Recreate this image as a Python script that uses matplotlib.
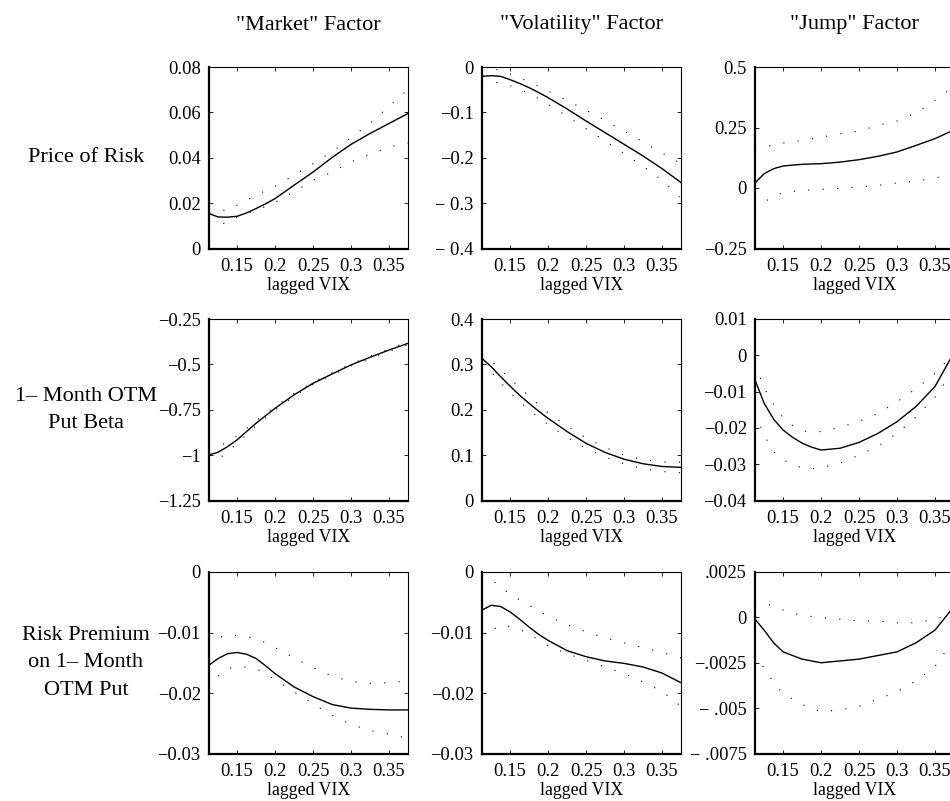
import matplotlib
matplotlib.use("Agg")
import matplotlib.pyplot as plt
from matplotlib.ticker import FixedLocator, FixedFormatter

plt.rcParams['font.family'] = ['Liberation Serif', 'DejaVu Serif']

# lagged VIX grid
vix = [0.113, 0.125, 0.1375, 0.15, 0.1625, 0.175, 0.1875, 0.2, 0.225, 0.25, 0.275, 0.3, 0.325, 0.35, 0.375]

col_titles = ['"Market" Factor', '"Volatility" Factor', '"Jump" Factor']
row_labels = ['Price of Risk', '1\u2013 Month OTM\nPut Beta', 'Risk Premium\non 1\u2013 Month\nOTM Put']

# Price of risk: estimate, upper band, lower band
mkt_price = [0.0154, 0.0139, 0.0138, 0.0142, 0.0157, 0.0176, 0.0197, 0.0220, 0.0279, 0.0337, 0.0401, 0.0459, 0.0507, 0.0551, 0.0595]
mkt_price_hi = [0.0176, 0.0170, 0.0167, 0.0191, 0.0213, 0.0235, 0.0255, 0.0274, 0.0323, 0.0374, 0.0426, 0.0489, 0.0551, 0.0627, 0.0700]
mkt_price_lo = [0.0113, 0.0107, 0.0113, 0.0139, 0.0153, 0.0169, 0.0185, 0.0203, 0.0249, 0.0301, 0.0337, 0.0382, 0.0415, 0.0448, 0.0465]

vol_price = [-0.0206, -0.0191, -0.0206, -0.0279, -0.0362, -0.0455, -0.0562, -0.0675, -0.0925, -0.119, -0.1446, -0.1703, -0.196, -0.2239, -0.2547]
vol_price_hi = [-0.0022, -0.0037, -0.0073, -0.0147, -0.0236, -0.033, -0.0428, -0.0528, -0.0734, -0.0954, -0.1174, -0.1409, -0.1651, -0.1893, -0.2128]
vol_price_lo = [-0.033, -0.033, -0.0352, -0.0411, -0.0493, -0.0587, -0.0702, -0.0822, -0.1086, -0.1358, -0.163, -0.1908, -0.2187, -0.2495, -0.29]

jump_price = [0.0206, 0.059, 0.0798, 0.0908, 0.0948, 0.0977, 0.0993, 0.1005, 0.107, 0.117, 0.131, 0.149, 0.176, 0.204, 0.24]
jump_price_hi = [0.162, 0.169, 0.179, 0.186, 0.191, 0.197, 0.203, 0.21, 0.224, 0.235, 0.259, 0.277, 0.31, 0.362, 0.42]
jump_price_lo = [-0.085, -0.058, -0.034, -0.019, -0.014, -0.010, -0.0075, -0.0055, -0.0014, 0.004, 0.011, 0.021, 0.029, 0.041, 0.062]

# 1-month OTM put beta
mkt_beta = [-0.999, -0.984, -0.953, -0.916, -0.87, -0.824, -0.783, -0.742, -0.668, -0.604, -0.553, -0.503, -0.461, -0.421, -0.384]
mkt_beta_hi = [-0.955, -0.95, -0.93, -0.895, -0.852, -0.81, -0.771, -0.732, -0.66, -0.598, -0.547, -0.498, -0.455, -0.414, -0.376]
mkt_beta_lo = [-1.04, -1.025, -0.98, -0.935, -0.886, -0.838, -0.795, -0.752, -0.676, -0.61, -0.559, -0.509, -0.467, -0.428, -0.392]

vol_beta = [0.313, 0.295, 0.273, 0.252, 0.232, 0.214, 0.197, 0.181, 0.152, 0.126, 0.106, 0.091, 0.081, 0.075, 0.073]
vol_beta_hi = [0.322, 0.308, 0.288, 0.268, 0.249, 0.23, 0.211, 0.193, 0.164, 0.138, 0.117, 0.1, 0.09, 0.085, 0.085]
vol_beta_lo = [0.3, 0.283, 0.26, 0.238, 0.218, 0.2, 0.183, 0.167, 0.139, 0.115, 0.096, 0.081, 0.07, 0.064, 0.061]

jump_beta = [-0.0068, -0.0132, -0.0176, -0.0206, -0.0226, -0.0242, -0.0253, -0.0261, -0.0256, -0.024, -0.0215, -0.0183, -0.0141, -0.0086, 0.0008]
jump_beta_hi = [-0.0025, -0.009, -0.0135, -0.0172, -0.0193, -0.0208, -0.0211, -0.021, -0.0198, -0.0182, -0.016, -0.0128, -0.0092, -0.005, 0.0006]
jump_beta_lo = [-0.016, -0.022, -0.0265, -0.0288, -0.0301, -0.031, -0.0312, -0.031, -0.0297, -0.0275, -0.025, -0.0215, -0.017, -0.0115, -0.004]

# Risk premium on 1-month OTM put
mkt_prem = [-0.0154, -0.0143, -0.0135, -0.0133, -0.0136, -0.0143, -0.0155, -0.0168, -0.019, -0.0206, -0.0219, -0.0225, -0.0227, -0.0228, -0.0228]
mkt_prem_hi = [-0.012, -0.0108, -0.0105, -0.0105, -0.0107, -0.011, -0.0117, -0.0125, -0.0142, -0.0158, -0.0172, -0.0181, -0.0184, -0.0183, -0.018]
mkt_prem_lo = [-0.019, -0.0172, -0.016, -0.0156, -0.0157, -0.016, -0.0168, -0.0178, -0.0198, -0.0218, -0.0237, -0.0252, -0.0262, -0.0268, -0.0275]

vol_prem = [-0.0063, -0.0055, -0.0057, -0.0066, -0.0078, -0.0091, -0.0103, -0.0113, -0.013, -0.014, -0.0147, -0.0151, -0.0157, -0.0167, -0.0183]
vol_prem_hi = [-0.0005, -0.0012, -0.0025, -0.0037, -0.0046, -0.0055, -0.0064, -0.0073, -0.0087, -0.0099, -0.0109, -0.0117, -0.0125, -0.0133, -0.0142]
vol_prem_lo = [-0.0105, -0.0097, -0.0088, -0.009, -0.0095, -0.0103, -0.0112, -0.0122, -0.0135, -0.0146, -0.0157, -0.0168, -0.0182, -0.0197, -0.0222]

jump_prem = [-0.0001, -0.0007, -0.0014, -0.0019, -0.0021, -0.0023, -0.0024, -0.0025, -0.0024, -0.0023, -0.0021, -0.0019, -0.0014, -0.0007, 0.0006]
jump_prem_hi = [0.0009, 0.0008, 0.0006, 0.0004, 0.00025, 0.0001, 0.00005, 0.0, -0.0001, -0.0002, -0.0002, -0.0003, -0.0003, -0.0001, 0.0002]
jump_prem_lo = [-0.002, -0.0028, -0.0036, -0.0042, -0.0045, -0.0048, -0.005, -0.0052, -0.0051, -0.0049, -0.0045, -0.0041, -0.0035, -0.0027, -0.0012]

series = [
    [(mkt_price, mkt_price_hi, mkt_price_lo), (vol_price, vol_price_hi, vol_price_lo), (jump_price, jump_price_hi, jump_price_lo)],
    [(mkt_beta, mkt_beta_hi, mkt_beta_lo), (vol_beta, vol_beta_hi, vol_beta_lo), (jump_beta, jump_beta_hi, jump_beta_lo)],
    [(mkt_prem, mkt_prem_hi, mkt_prem_lo), (vol_prem, vol_prem_hi, vol_prem_lo), (jump_prem, jump_prem_hi, jump_prem_lo)],
]

# y-axis ticks and their printed labels
y_ticks = [
    [[0, 0.02, 0.04, 0.06, 0.08], [-0.4, -0.3, -0.2, -0.1, 0], [-0.25, 0, 0.25, 0.5]],
    [[-1.25, -1, -0.75, -0.5, -0.25], [0, 0.1, 0.2, 0.3, 0.4], [-0.04, -0.03, -0.02, -0.01, 0, 0.01]],
    [[-0.03, -0.02, -0.01, 0], [-0.03, -0.02, -0.01, 0], [-0.0075, -0.005, -0.0025, 0, 0.0025]],
]
y_ticklabels = [
    [['0', '0.02', '0.04', '0.06', '0.08'],
     ['\u2212 0.4', '\u2212 0.3', '\u22120.2', '\u22120.1', '0'],
     ['\u22120.25', '0', '0.25', '0.5']],
    [['\u22121.25', '\u22121', '\u22120.75', '\u22120.5', '\u22120.25'],
     ['0', '0.1', '0.2', '0.3', '0.4'],
     ['\u22120.04', '\u22120.03', '\u22120.02', '\u22120.01', '0', '0.01']],
    [['\u22120.03', '\u22120.02', '\u22120.01', '0'],
     ['\u22120.03', '\u22120.02', '\u22120.01', '0'],
     ['\u2212 .0075', '\u2212 .005', '\u2212.0025', '0', '.0025']],
]

x_ticks = [0.15, 0.2, 0.25, 0.3, 0.35]
x_ticklabels = ['0.15', '0.2', '0.25', '0.3', '0.35']

W, H = 950, 801
fig = plt.figure(figsize=(W / 100, H / 100), dpi=100)

col_left = [209, 482, 755]
row_top = [67, 319, 572]
ax_w, ax_h = 199, 181.5

for r in range(3):
    for c in range(3):
        ax = fig.add_axes([col_left[c] / W, 1 - (row_top[r] + ax_h) / H, ax_w / W, ax_h / H])
        est, hi, lo = series[r][c]
        ax.plot(vix, est, color='black', lw=1.0)
        for band in (hi, lo):
            ax.plot(vix, band, color='black', lw=0.8, linestyle=(0, (1, 12)))
        yt = y_ticks[r][c]
        ax.set_xlim(0.113, 0.375)
        ax.set_ylim(yt[0], yt[-1])
        ax.xaxis.set_major_locator(FixedLocator(x_ticks))
        ax.xaxis.set_major_formatter(FixedFormatter(x_ticklabels))
        ax.yaxis.set_major_locator(FixedLocator(yt))
        ax.yaxis.set_major_formatter(FixedFormatter(y_ticklabels[r][c]))
        ax.tick_params(direction='in', length=3, width=0.6, top=True, right=True,
                       labelsize=13.3)
        ax.tick_params(axis='x', pad=7)
        ax.tick_params(axis='y', pad=6)
        ax.set_xlabel('lagged VIX', fontsize=12.8, labelpad=1.5)
        for side in ('left', 'bottom'):
            ax.spines[side].set_linewidth(1.6)
        for side in ('top', 'right'):
            ax.spines[side].set_linewidth(0.8)
        if r == 0:
            fig.text((col_left[c] + ax_w / 2) / W, (H - 25) / H, col_titles[c],
                     fontsize=16, ha='center', va='center')
    cy = row_top[r] + ax_h / 2
    fig.text(86 / W, 1 - cy / H, row_labels[r], fontsize=16, ha='center', va='center',
             linespacing=1.6)

fig.savefig('out.png', dpi=100)
